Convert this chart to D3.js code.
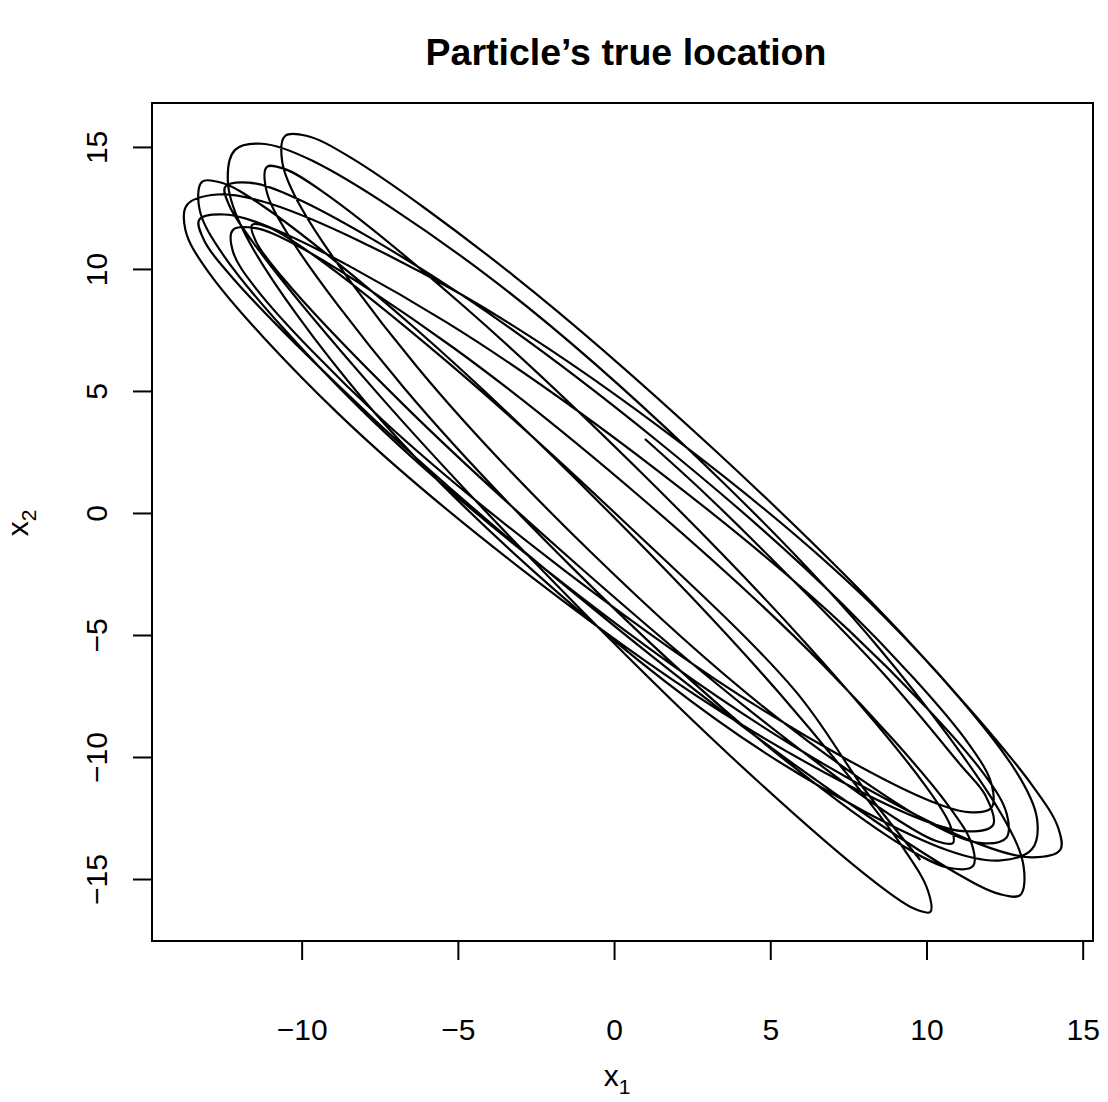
<!DOCTYPE html>
<html>
<head>
<meta charset="utf-8">
<script src="https://cdnjs.cloudflare.com/ajax/libs/d3/7.8.5/d3.min.js"></script>
<style>
  body { margin: 0; background: white; }
  svg text { font-family: 'Liberation Sans', Arial, Helvetica, sans-serif; }
</style>
</head>
<body>
<div id="chart"></div>
<script>
/* global d3 */

var WIDTH = 1108;
var HEIGHT = 1102;

var xTicks = [-10, -5, 0, 5, 10, 15];
var yTicks = [-15, -10, -5, 0, 5, 10, 15];

// particle path (x1, x2)
var x1 = [
  0.99, 2.94, 5.23, 8.59, 11.10, 11.88, 12.13,
  11.31, 9.73, 4.13, -2.56, -8.77, -12.97, -13.72, -13.67,
  -12.70, -10.95, -4.90, 2.18, 8.63, 12.86, 13.54, 13.38,
  12.38, 10.65, 4.81, -1.91, -7.94, -11.80, -12.36, -12.13,
  -11.27, -9.67, -4.11, 2.44, 8.45, 12.44, 13.11, 13.00,
  12.35, 10.92, 5.52, -1.20, -7.62, -12.20, -13.14, -13.28,
  -12.48, -10.93, -5.36, 1.32, 7.55, 11.80, 12.57, 12.55,
  11.77, 10.31, 5.23, -0.78, -6.31, -10.00, -10.62, -10.53,
  -9.85, -8.44, -3.23, 3.14, 9.17, 13.39, 14.22, 14.28,
  13.38, 11.68, 5.68, -1.46, -8.06, -12.49, -13.27, -13.19,
  -12.56, -11.24, -6.36, -0.38, 5.30, 9.27, 10.05, 10.12,
  9.58, 8.37, 3.75, -2.01, -7.54, -11.50, -12.32, -12.45,
  -11.70, -10.23, -4.95, 1.39, 7.31, 11.35, 12.09, 12.07,
  11.35, 9.91, 4.72, -1.54, -7.41, -11.44, -12.20, -12.20,
  -11.52, -10.15, -5.13, 0.97, 6.72, 10.70, 11.46, 11.49,
  10.79, 9.43, 4.56, -1.29, -6.74, -10.45, -11.13, -11.11,
  -10.55, -9.34, -4.80, 0.82, 6.18, 9.98, 10.75, 10.85,
  10.31, 9.10, 4.51, -1.21, -6.71, -10.64, -11.46, -11.59,
  -11.05, -9.86, -5.31, 0.35, 5.78, 8.00, 9.80
];
var x2 = [
  3.03, 0.76, -2.12, -6.54, -10.34, -11.56, -12.79,
  -13.05, -12.51, -8.71, -2.70, 4.00, 9.85, 11.60, 12.62,
  13.05, 12.65, 8.96, 2.82, -4.23, -10.58, -12.55, -13.77,
  -14.24, -13.81, -9.81, -3.14, 4.52, 11.40, 13.55, 14.88,
  15.13, 14.44, 9.78, 2.54, -5.49, -12.44, -14.49, -15.66,
  -15.62, -14.73, -10.08, -3.37, 3.76, 9.62, 11.22, 12.01,
  12.23, 11.66, 7.81, 1.81, -4.85, -10.63, -12.34, -13.32,
  -13.53, -12.84, -8.40, -1.56, 5.99, 12.48, 14.38, 15.45,
  15.46, 14.57, 9.74, 2.67, -4.90, -11.17, -12.92, -13.81,
  -14.11, -13.56, -9.50, -3.05, 4.19, 10.54, 12.45, 13.57,
  13.53, 12.58, 7.56, 0.31, -7.40, -13.75, -15.49, -16.35,
  -16.20, -15.15, -9.99, -2.73, 4.86, 10.99, 12.61, 13.36,
  13.54, 12.93, 9.00, 2.95, -3.73, -9.46, -11.15, -12.09,
  -12.26, -11.69, -8.04, -2.40, 3.81, 9.16, 10.72, 11.60,
  11.68, 10.96, 6.76, 0.51, -6.27, -11.99, -13.61, -14.47,
  -14.56, -13.78, -9.18, -2.30, 5.15, 11.44, 13.23, 14.18,
  14.10, 13.18, 8.46, 1.72, -5.40, -11.20, -12.77, -13.52,
  -13.44, -12.59, -8.26, -2.09, 4.40, 9.69, 11.12, 11.80,
  11.70, 10.78, 6.16, -0.39, -7.26, -11.30, -14.22
];

function minusSign(d) {
  return d < 0 ? '\u2212' + Math.abs(d) : String(d);
}

function draw() {
  'use strict';

  var svg = d3.select('#chart')
    .append('svg')
    .attr('width', WIDTH)
    .attr('height', HEIGHT)
    .style('background', 'white');

  var x = d3.scaleLinear().domain([-14.79, 15.33]).range([152, 1093]);
  var y = d3.scaleLinear().domain([-17.54, 16.80]).range([941, 103]);

  // title
  svg.append('text')
    .attr('x', 626)
    .attr('y', 65)
    .attr('text-anchor', 'middle')
    .attr('font-size', '37.5px')
    .attr('font-weight', 'bold')
    .text('Particle\u2019s true location');

  // trajectory
  var line = d3.line()
    .x(function(d, i) { return x(x1[i]); })
    .y(function(d, i) { return y(x2[i]); })
    .curve(d3.curveCatmullRom.alpha(0.5));

  svg.append('path')
    .datum(x1)
    .attr('d', line)
    .attr('fill', 'none')
    .attr('stroke', 'black')
    .attr('stroke-width', 2.2)
    .attr('stroke-linejoin', 'round');

  // x axis
  var gx = svg.append('g')
    .attr('transform', 'translate(0,' + y.range()[0] + ')')
    .call(d3.axisBottom(x).tickValues(xTicks).tickSize(19).tickFormat(minusSign));
  gx.select('.domain').remove();
  gx.attr('font-size', 30).attr('font-family', null);
  gx.selectAll('line').attr('stroke', 'black').attr('stroke-width', 2);
  gx.selectAll('text').attr('fill', 'black').attr('y', 99).attr('dy', null);

  // y axis, labels turned like R does
  var gy = svg.append('g')
    .attr('transform', 'translate(' + x.range()[0] + ',0)')
    .call(d3.axisLeft(y).tickValues(yTicks).tickSize(19).tickFormat(minusSign));
  gy.select('.domain').remove();
  gy.attr('font-size', 30).attr('font-family', null);
  gy.selectAll('line').attr('stroke', 'black').attr('stroke-width', 2);
  gy.selectAll('text')
    .attr('fill', 'black')
    .attr('x', 0)
    .attr('dy', null)
    .attr('text-anchor', 'middle')
    .attr('transform', 'translate(-45,0) rotate(-90)');

  // box
  svg.append('rect')
    .attr('x', x.range()[0])
    .attr('y', y.range()[1])
    .attr('width', x.range()[1] - x.range()[0])
    .attr('height', y.range()[0] - y.range()[1])
    .attr('fill', 'none')
    .attr('stroke', 'black')
    .attr('stroke-width', 2);

  // axis titles
  var xl = svg.append('text')
    .attr('x', 617)
    .attr('y', 1086)
    .attr('text-anchor', 'middle')
    .attr('font-size', '30px');
  xl.append('tspan').text('x');
  xl.append('tspan').attr('dy', 8).attr('font-size', '21px').text('1');

  var yl = svg.append('text')
    .attr('transform', 'translate(28,523) rotate(-90)')
    .attr('text-anchor', 'middle')
    .attr('font-size', '30px');
  yl.append('tspan').text('x');
  yl.append('tspan').attr('dy', 8).attr('font-size', '21px').text('2');
}

draw();
</script>
</body>
</html>
